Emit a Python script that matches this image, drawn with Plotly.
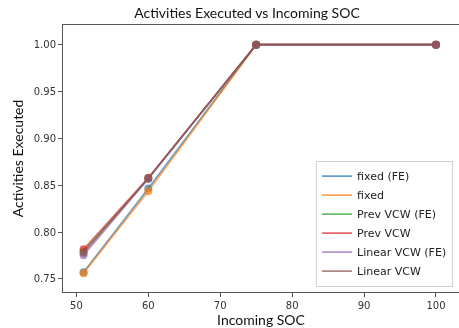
import plotly.graph_objects as go

soc = [51, 60, 75, 100]
fixed_fe = [0.757, 0.8465, 1.0, 1.0]
fixed = [0.756, 0.8436, 1.0, 1.0]
prev_vcw_fe = [0.779, 0.857, 1.0, 1.0]
prev_vcw = [0.7815, 0.858, 1.0, 1.0]
linear_vcw_fe = [0.7752, 0.857, 1.0, 1.0]
linear_vcw = [0.778, 0.8575, 1.0, 1.0]

series = [
    ("fixed (FE)", fixed_fe, "#1f77b4"),
    ("fixed", fixed, "#ff7f0e"),
    ("Prev VCW (FE)", prev_vcw_fe, "#2ca02c"),
    ("Prev VCW", prev_vcw, "#d62728"),
    ("Linear VCW (FE)", linear_vcw_fe, "#9467bd"),
    ("Linear VCW", linear_vcw, "#8c564b"),
]

fig = go.Figure()
for name, vals, col in series:
    fig.add_trace(go.Scatter(
        x=soc, y=vals, name=name, mode="markers", showlegend=False,
        marker=dict(color=col, size=8), opacity=0.7, hoverinfo="skip",
    ))
    fig.add_trace(go.Scatter(
        x=soc, y=vals, name=name, mode="lines",
        line=dict(color=col, width=1.6), opacity=0.7,
    ))

W, H = 459, 328
L, R, T, B = 63, 0, 25, 36
fig.update_layout(
    width=W, height=H,
    margin=dict(l=L, r=R, t=T, b=B),
    paper_bgcolor="white", plot_bgcolor="white",
    showlegend=True,
    title=dict(text="Activities Executed vs Incoming SOC", x=247 / W, xanchor="center",
               y=1 - 13 / H, yanchor="middle", xref="container", yref="container",
               font=dict(family="Lato", size=14, color="#111")),
    font=dict(family="DejaVu Sans", size=10, color="#333"),
    legend=dict(x=0.985, xanchor="right", y=0.02, yanchor="bottom",
                bgcolor="rgba(255,255,255,0.85)", bordercolor="#d0d0d0", borderwidth=1,
                font=dict(family="DejaVu Sans", size=11, color="#222"),
                tracegroupgap=0, itemwidth=30),
    xaxis=dict(range=[48.14, 103.2], tickvals=[50, 60, 70, 80, 90, 100],
               showgrid=False, zeroline=False, showline=True, linecolor="#555", linewidth=1,
               mirror=True, ticks="outside", ticklen=4, tickcolor="#555",
               title=dict(text="Incoming SOC", font=dict(family="Lato", size=14, color="#111"), standoff=4)),
    yaxis=dict(range=[0.736, 1.021], tickvals=[0.75, 0.80, 0.85, 0.90, 0.95, 1.00],
               tickformat=".2f",
               showgrid=False, zeroline=False, showline=True, linecolor="#555", linewidth=1,
               ticks="outside", ticklen=4, tickcolor="#555",
               title=dict(text="Activities Executed", font=dict(family="Lato", size=14, color="#111"), standoff=6)),
)

fig.write_html("out.html")
